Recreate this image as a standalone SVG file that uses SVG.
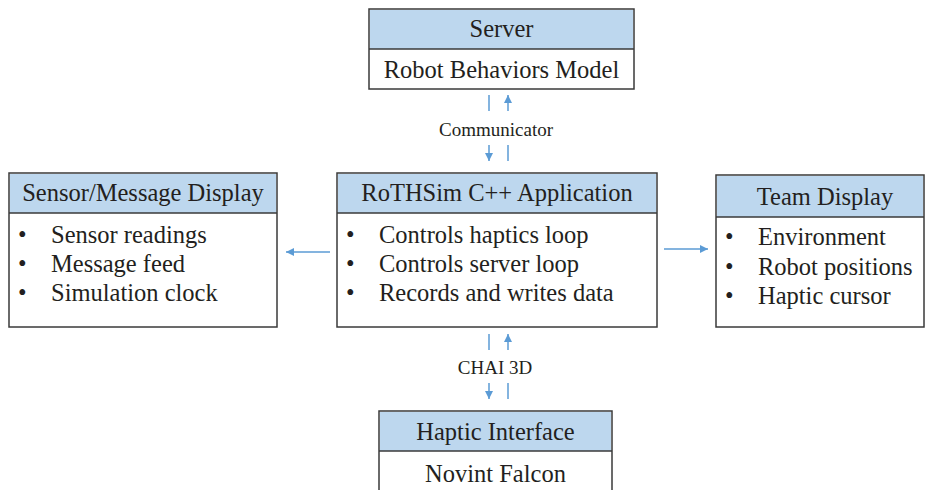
<svg xmlns="http://www.w3.org/2000/svg" width="925" height="490" viewBox="0 0 925 490">
<defs>
<style>
.hdr{fill:#BDD7EE;stroke:none}
.box{fill:#ffffff;stroke:#3a3a3a;stroke-width:1.5}
.sep{stroke:#3a3a3a;stroke-width:1.5}
.t{font-family:"Liberation Serif","Times New Roman",serif;font-size:24.5px;fill:#231f20}
.c{text-anchor:middle}
.lbl{font-family:"Liberation Serif","Times New Roman",serif;font-size:19px;fill:#231f20;text-anchor:middle}
.ar{stroke:#5B9BD5;stroke-width:1.5;fill:none}
</style>
<marker id="ah" viewBox="0 0 10 10" refX="10" refY="5" markerWidth="8" markerHeight="8" markerUnits="userSpaceOnUse" orient="auto">
<path d="M0,0 L10,5 L0,10 z" fill="#5B9BD5"/>
</marker>
</defs>

<g id="server">
<rect class="box" x="369" y="9" width="265" height="80"/>
<rect class="hdr" x="370" y="10" width="263" height="39"/>
<line class="sep" x1="369" y1="49" x2="634" y2="49"/>
<text class="t c" x="501.5" y="37">Server</text>
<text class="t c" x="501.5" y="78">Robot Behaviors Model</text>
</g>

<g id="sensor-display">
<rect class="box" x="9" y="173" width="268" height="154"/>
<rect class="hdr" x="10" y="174" width="266" height="39"/>
<line class="sep" x1="9" y1="213" x2="277" y2="213"/>
<text class="t c" x="143" y="201">Sensor/Message Display</text>
<text class="t" x="18" y="243">•</text><text class="t" x="51" y="243">Sensor readings</text>
<text class="t" x="18" y="272">•</text><text class="t" x="51" y="272">Message feed</text>
<text class="t" x="18" y="301">•</text><text class="t" x="51" y="301">Simulation clock</text>
</g>

<g id="rothsim">
<rect class="box" x="337" y="173" width="320" height="154"/>
<rect class="hdr" x="338" y="174" width="318" height="39"/>
<line class="sep" x1="337" y1="213" x2="657" y2="213"/>
<text class="t c" x="497" y="201">RoTHSim C++ Application</text>
<text class="t" x="346" y="243">•</text><text class="t" x="379" y="243">Controls haptics loop</text>
<text class="t" x="346" y="272">•</text><text class="t" x="379" y="272">Controls server loop</text>
<text class="t" x="346" y="301">•</text><text class="t" x="379" y="301">Records and writes data</text>
</g>

<g id="team-display">
<rect class="box" x="716" y="175" width="208" height="152"/>
<rect class="hdr" x="717" y="176" width="206" height="41"/>
<line class="sep" x1="716" y1="217" x2="924" y2="217"/>
<text class="t c" x="825" y="205">Team Display</text>
<text class="t" x="725" y="245">•</text><text class="t" x="758" y="245">Environment</text>
<text class="t" x="725" y="275">•</text><text class="t" x="758" y="275">Robot positions</text>
<text class="t" x="725" y="304">•</text><text class="t" x="758" y="304">Haptic cursor</text>
</g>

<g id="haptic-interface">
<rect class="box" x="379" y="411" width="233" height="90"/>
<rect class="hdr" x="380" y="412" width="231" height="39"/>
<line class="sep" x1="379" y1="451" x2="612" y2="451"/>
<text class="t c" x="495.5" y="440">Haptic Interface</text>
<text class="t c" x="495.5" y="482">Novint Falcon</text>
</g>

<g id="connectors">
<line class="ar" x1="489" y1="95" x2="489" y2="111"/>
<line class="ar" x1="508" y1="111" x2="508" y2="95" marker-end="url(#ah)"/>
<text class="lbl" x="496" y="136">Communicator</text>
<line class="ar" x1="489" y1="145" x2="489" y2="161" marker-end="url(#ah)"/>
<line class="ar" x1="508" y1="145" x2="508" y2="161"/>

<line class="ar" x1="330" y1="252" x2="286" y2="252" marker-end="url(#ah)"/>
<line class="ar" x1="664" y1="249" x2="708" y2="249" marker-end="url(#ah)"/>

<line class="ar" x1="489" y1="334" x2="489" y2="350"/>
<line class="ar" x1="508" y1="350" x2="508" y2="334" marker-end="url(#ah)"/>
<text class="lbl" x="495" y="374">CHAI 3D</text>
<line class="ar" x1="489" y1="383" x2="489" y2="399" marker-end="url(#ah)"/>
<line class="ar" x1="508" y1="383" x2="508" y2="399"/>
</g>
</svg>
